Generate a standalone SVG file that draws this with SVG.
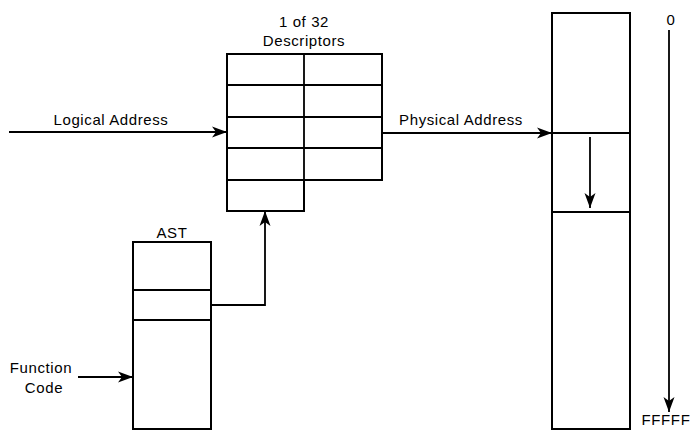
<svg xmlns="http://www.w3.org/2000/svg" width="690" height="432" viewBox="0 0 690 432">
<style>
.box{fill:none;stroke:#000;stroke-width:2}
.ln{fill:none;stroke:#000;stroke-width:1.8}
.con{fill:none;stroke:#000;stroke-width:1.8}
text{font-family:"Liberation Sans",Arial,sans-serif;font-size:15px;letter-spacing:0.6px;fill:#000}
</style>
<defs>
<marker id="ah" markerUnits="userSpaceOnUse" markerWidth="16" markerHeight="12" refX="15" refY="6" orient="auto">
<path d="M0,0.5 L15,6 L0,11.5 L4,6 z" fill="#000"/>
</marker>
</defs>
<rect width="690" height="432" fill="#fff"/>
<g id="descriptors">
<path class="box" d="M227,54 H382 V180 H304 V211 H227 Z"/>
<path class="ln" d="M304,54 V180 M227,85 H382 M227,117 H382 M227,148 H382 M227,180 H304"/>
<text x="304" y="27" text-anchor="middle">1 of 32</text>
<text x="304" y="46" text-anchor="middle">Descriptors</text>
</g>
<g id="ast">
<rect class="box" x="133" y="242" width="78" height="187"/>
<path class="ln" d="M133,290 H211 M133,320 H211"/>
<text x="172" y="238" text-anchor="middle">AST</text>
</g>
<g id="memory">
<rect class="box" x="552" y="13" width="78" height="416"/>
<path class="ln" d="M552,133 H630 M552,212 H630"/>
</g>
<g id="labels">
<text x="111" y="125" text-anchor="middle">Logical Address</text>
<text x="461" y="125" text-anchor="middle">Physical Address</text>
<text x="41" y="373" text-anchor="middle">Function</text>
<text x="44" y="393" text-anchor="middle">Code</text>
<text x="671" y="25" text-anchor="middle">0</text>
<text x="666" y="425" font-size="13" letter-spacing="0" text-anchor="middle">FFFFF</text>
</g>
<g id="connectors">
<line class="con" x1="9" y1="132" x2="227" y2="132" marker-end="url(#ah)"/>
<line class="con" x1="382" y1="133" x2="552" y2="133" marker-end="url(#ah)"/>
<polyline class="con" points="211,305 265,305 265,211" marker-end="url(#ah)"/>
<line class="con" x1="78" y1="377" x2="133" y2="377" marker-end="url(#ah)"/>
<line class="con" x1="590" y1="137" x2="590" y2="208" marker-end="url(#ah)"/>
<line class="con" x1="669" y1="30" x2="669" y2="412" marker-end="url(#ah)"/>
</g>
</svg>
